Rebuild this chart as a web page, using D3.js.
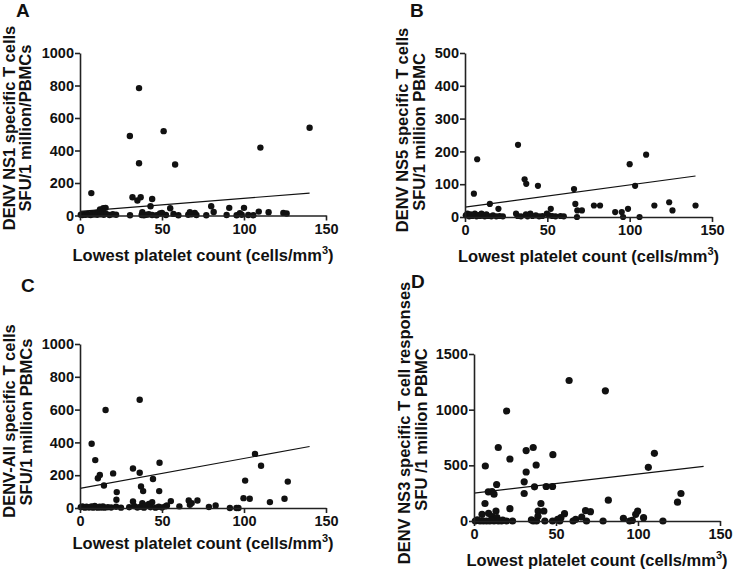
<!DOCTYPE html>
<html>
<head>
<meta charset="utf-8">
<script src="https://cdn.jsdelivr.net/npm/d3@7"></script>
<style>
  html, body { margin: 0; padding: 0; background: #fff; }
  svg { display: block; }
  text { font-family: "Liberation Sans", Arial, sans-serif; font-weight: bold; fill: #111; }
</style>
</head>
<body>
<svg id="chart" width="734" height="579"></svg>
<script>
// ---------------- DATA ----------------
const xTicks = [0, 50, 100, 150];
const yTicksA = [0, 200, 400, 600, 800, 1000];
const yTicksB = [0, 100, 200, 300, 400, 500];
const yTicksC = [0, 200, 400, 600, 800, 1000];
const yTicksD = [0, 500, 1000, 1500];

const xTitle = "Lowest platelet count (cells/mm";
const yTitlesA = ["DENV NS1 specific T cells", "SFU/1 million/PBMCs"];
const yTitlesB = ["DENV NS5 specific T cells", "SFU/1 million PBMC"];
const yTitlesC = ["DENV-All specific T cells", "SFU/1 million PBMCs"];
const yTitlesD = ["DENV NS3 specific T cell responses", "SFU /1 million PBMC"];

// [platelet count, SFU]
const pointsA = [
  [6.9,138],[30.4,489],[36,784],[36,322],[51,519],[58,314],[110,418],[140,540],
  [32,112],[35,92],[37,112],[44,102],[43,57],[14.2,45],[12.2,38],[15.6,47],[55,45],[80,57],
  [81.5,22],[91,47],[100,47],[97.5,14],[109,24],[115,20],[124,16],[126,12],[67,20],[70,16],[57,10],
  [0.5,5],[1.5,3],[2.5,8],[3.5,4],[4.5,10],[5.5,6],[6.5,3],[7.5,12],[8.5,6],[9.5,15],[10.5,4],
  [11.5,20],[12.5,8],[13.5,25],[14.5,5],[16,10],[18,3],[20,8],[22,5],[30.5,2],[37.6,3],[40.6,5],
  [46.7,2],[48.8,12],[52.4,3],[60,2],[66,5],[68,8],[71,3],[77,2],[89.4,3],[95.5,2],[98.6,5],
  [102.6,3],[105.7,2],[38,20],[42,8],[50,15],[39,2],[44,3]
];
const pointsB = [
  [7.4,176],[5.4,71],[32.2,220],[36.2,115],[37.2,101],[44.3,95],[15.1,40],[20.3,25],[52.1,25],
  [66.2,85],[67,40],[68.2,20],[71,20],[78.3,35],[82,35],[91.2,15],[95.2,15],[99,25],[100,161],
  [103.3,95],[110,190],[115,35],[124,45],[126,20],[140,35],[96,0],[106,0],[68,0],
  [0.5,5],[1.5,10],[2.5,2],[3.5,8],[4.5,3],[6,10],[7,2],[8,6],[9,3],[10,10],[11,4],[12,2],[13,8],
  [14,3],[16,2],[17,5],[19,2],[21,3],[23,2],[31,10],[32,3],[34,2],[37,8],[38,2],[39.7,10],[41,3],
  [43,5],[45,2],[47,3],[49.7,10],[51,5],[53,3],[55,2],[58,3],[60,2]
];
const pointsC = [
  [7.1,392],[9.3,292],[10.9,181],[12.1,201],[15.6,598],[14.6,137],[20.2,211],[22.4,97],[22.2,50],
  [36.4,660],[32.3,241],[36.4,215],[37.2,131],[38.5,103],[44.5,177],[48.5,276],[48.3,103],
  [106.7,330],[110.4,258],[100.7,167],[126.7,161],[99.7,60],[103.5,56],[115.8,36],[124.7,56],
  [55.4,42],[66.3,46],[68.1,30],[71.6,46],[60.6,10],[82.7,16],[78.6,6],[91.4,0],[95.4,0],[96.6,0],
  [32.3,40],[38,30],[42,25],[44,35],[53,15],[67,20],
  [0.5,5],[1.5,10],[3,2],[4,8],[5.5,3],[7,10],[8,2],[9,12],[10,5],[11,2],[12,8],[13,3],[14,10],
  [15,2],[17,5],[19,3],[22,8],[25,2],[30,5],[33,12],[35,3],[37,8],[39,2],[40,15],[43,5],[46,2],
  [48,8],[50,3],[52,10]
];
const pointsD = [
  [58,1262],[80.1,1169],[19.9,988],[14.8,660],[36.1,660],[31.8,633],[21.9,557],[48.1,596],
  [6.9,494],[37.9,503],[31.8,440],[110,608],[106.3,482],[13.8,328],[30.6,352],[30.6,247],
  [36.9,307],[44,310],[47.9,310],[8.7,262],[11,265],[12.2,241],[6.7,157],[21.9,111],[40.8,157],
  [81.9,187],[126.2,247],[124.1,169],[8.9,69],[4.9,60],[13.4,90],[39.1,90],[42.6,90],[68,93],
  [71,84],[55.2,66],[99.8,90],[98.6,60],[103.4,30],[91.1,24],[65.7,36],[39,42],[11,40],[14,30],
  [53,30],[51,15],[62,15],[35,10],
  [0.8,0],[3.7,0],[5.7,0],[7.7,0],[9.7,0],[12.2,0],[14.8,0],[16.8,0],[19.9,0],[23.5,0],[36.1,0],
  [38.1,0],[43.2,0],[47.9,0],[52.3,0],[60.4,0],[68.6,0],[78.7,0],[94.9,0],[115.2,0],[96.5,5],
  [2,10],[10.5,5],[17.5,8]
];

// regression lines: [[x0,y0],[x1,y1]]
const fitA = [[0,25],[140,138]];
const fitB = [[0,30],[140,125]];
const fitC = [[0,120],[140,375]];
const fitD = [[0,250],[140,490]];

// ---------------- LAYOUT ----------------
const panels = [
  { label:"A", lx:16, ly:17, pts:pointsA, fit:fitA, yTicks:yTicksA, yTitles:yTitlesA,
    left:80, right:326, top:53, bottom:215.5, r:3.2,
    titleX:[14.5,31], titleY:[128,128], xTitleY:261 },
  { label:"B", lx:410, ly:17, pts:pointsB, fit:fitB, yTicks:yTicksB, yTitles:yTitlesB,
    left:465, right:712, top:53, bottom:217, r:3.1,
    titleX:[407.5,424.5], titleY:[130,132], xTitleY:262 },
  { label:"C", lx:21, ly:292, pts:pointsC, fit:fitC, yTicks:yTicksC, yTitles:yTitlesC,
    left:80, right:326, top:344, bottom:508, r:3.2,
    titleX:[15,31.5], titleY:[421,422], xTitleY:549 },
  { label:"D", lx:411, ly:288, pts:pointsD, fit:fitD, yTicks:yTicksD, yTitles:yTitlesD,
    left:474, right:720, top:354, bottom:521, r:3.6,
    titleX:[410,427], titleY:[423,429.5], xTitleY:566 }
];

const svg = d3.select("#chart");
const fmt = d3.format("d");

panels.forEach(p => {
  const g = svg.append("g");
  const x = d3.scaleLinear().domain([0, 150]).range([p.left, p.right]);
  const yMax = p.yTicks[p.yTicks.length - 1];
  const y = d3.scaleLinear().domain([0, yMax]).range([p.bottom, p.top]);

  // panel label
  g.append("text").attr("x", p.lx).attr("y", p.ly)
    .style("font-size", "19px").text(p.label);

  // points
  g.append("g").selectAll("circle").data(p.pts).join("circle")
    .attr("cx", d => x(d[0])).attr("cy", d => y(d[1]))
    .attr("r", p.r).attr("fill", "#111");

  // regression line
  g.append("path").datum(p.fit)
    .attr("d", d3.line().x(d => x(d[0])).y(d => y(d[1])))
    .attr("fill", "none").attr("stroke", "#111").attr("stroke-width", 1.2);

  // axes
  const xAxis = g.append("g").attr("transform", `translate(0,${p.bottom})`)
    .call(d3.axisBottom(x).tickValues(xTicks).tickFormat(fmt).tickSize(5).tickSizeOuter(0).tickPadding(3));
  const yAxis = g.append("g").attr("transform", `translate(${p.left},0)`)
    .call(d3.axisLeft(y).tickValues(p.yTicks).tickFormat(fmt).tickSize(5).tickSizeOuter(0).tickPadding(1));
  [xAxis, yAxis].forEach(a => {
    a.attr("font-size", null).attr("font-family", null);
    a.select(".domain").attr("stroke", "#222").attr("stroke-width", 1.6);
    a.selectAll(".tick line").attr("stroke", "#222").attr("stroke-width", 1.6);
    a.selectAll(".tick text").attr("fill", "#111")
      .style("font-size", "14.5px").style("font-weight", "bold")
      .style("font-family", '"Liberation Sans", Arial, sans-serif');
  });

  // x title with superscript
  const xt = g.append("text")
    .attr("x", (p.left + p.right) / 2).attr("y", p.xTitleY)
    .attr("text-anchor", "middle").style("font-size", "16.5px");
  xt.append("tspan").text(xTitle);
  xt.append("tspan").attr("dy", -7).style("font-size", "11px").text("3");
  xt.append("tspan").attr("dy", 7).text(")");

  // y titles (two rotated lines)
  p.yTitles.forEach((t, i) => {
    g.append("text")
      .attr("transform", `translate(${p.titleX[i]},${p.titleY[i]}) rotate(-90)`)
      .attr("text-anchor", "middle").style("font-size", "16.5px").text(t);
  });
});
</script>
</body>
</html>
